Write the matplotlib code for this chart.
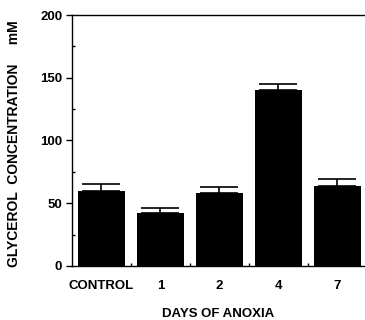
import numpy as np
import matplotlib.pyplot as plt
from matplotlib.ticker import MultipleLocator, FixedLocator

groups = ['CONTROL', '1', '2', '4', '7']
glycerol = [60, 42, 58, 140, 64]
sem = [5, 4.5, 5, 5, 5]

plt.rcParams['font.family'] = ['Liberation Sans', 'DejaVu Sans']

fig = plt.figure(figsize=(3.65, 3.2), dpi=100)
ax = fig.add_axes([0.197, 0.169, 0.800, 0.784])

x = np.arange(len(groups))
ax.bar(x, glycerol, width=0.8, color='black')
ax.errorbar(x, glycerol, yerr=[np.zeros(len(sem)), sem], fmt='none',
            ecolor='black', elinewidth=1.2, capsize=14, capthick=1.2)

ax.set_xlim(-0.5, 4.45)
ax.set_ylim(0, 200)
ax.set_yticks([0, 50, 100, 150, 200])
ax.yaxis.set_minor_locator(MultipleLocator(25))
ax.set_xticks(x)
ax.set_xticklabels(groups)
ax.xaxis.set_minor_locator(FixedLocator([0.5, 1.5, 2.5, 3.5]))

ax.tick_params(axis='y', which='major', direction='out', length=4, width=1,
               labelsize=9.5, pad=3)
ax.tick_params(axis='y', which='minor', direction='in', length=2, width=1)
ax.tick_params(axis='x', which='major', length=0, labelsize=9.5, pad=10)
ax.tick_params(axis='x', which='minor', direction='in', length=2, width=1)
for lab in ax.get_xticklabels() + ax.get_yticklabels():
    lab.set_fontweight('bold')

ax.spines['right'].set_visible(False)
for s in ['left', 'bottom', 'top']:
    ax.spines[s].set_linewidth(1)

ax.set_xlabel('DAYS OF ANOXIA', fontsize=9.5, fontweight='bold', labelpad=12)
ax.set_ylabel('GLYCEROL  CONCENTRATION     mM', fontsize=10,
              fontweight='bold')
ax.yaxis.set_label_coords(-0.175, 0.486)

fig.savefig('out.png', dpi=100)
